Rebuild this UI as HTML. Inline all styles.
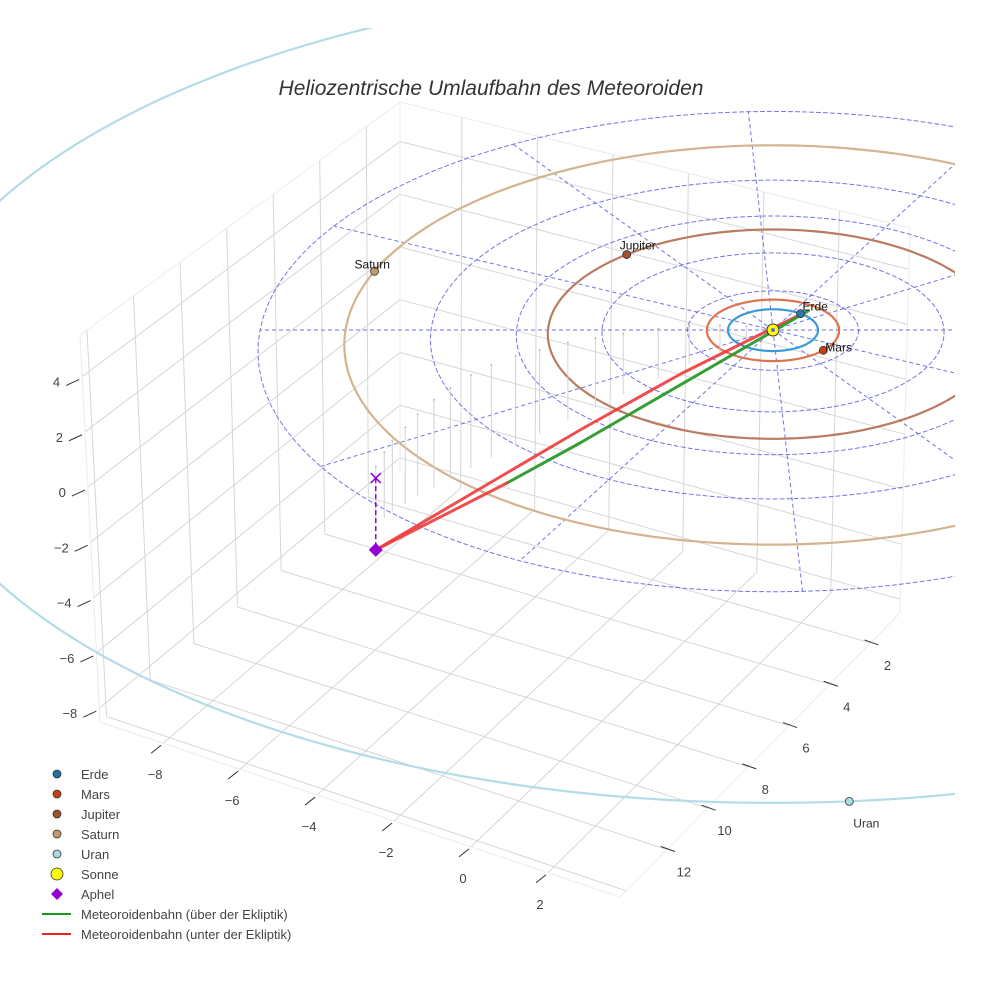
<!DOCTYPE html>
<html><head><meta charset="utf-8"><title>Heliozentrische Umlaufbahn</title>
<style>
html,body{margin:0;padding:0;background:#fff;}
svg{display:block;font-family:"Liberation Sans",Arial,sans-serif;}
</style></head>
<body>
<svg id="chart" width="984" height="984" viewBox="0 0 984 984">
<defs><clipPath id="sceneClip"><rect x="0" y="28" width="955" height="956"/></clipPath></defs>
<rect width="984" height="984" fill="#fff"/>
<g id="scene" clip-path="url(#sceneClip)"></g>
<text x="491" y="95" text-anchor="middle" font-size="21" font-style="italic" fill="#333">Heliozentrische Umlaufbahn des Meteoroiden</text>
<g id="legend"></g>
</svg>
<script>
// ---- data ----
const xTicks = [-8, -6, -4, -2, 0, 2];
const yTicks = [2, 4, 6, 8, 10, 12];
const zTicks = [4, 2, 0, -2, -4, -6, -8];
const planetNames = ["Erde", "Mars", "Jupiter", "Saturn", "Uran"];
const orbitRadii = [1.0, 1.47, 5.0, 9.5, 19.2];
const planetAngles = [-52, 41, -132, -162.4, 85.7];
const gridRingRadii = [1.9, 3.8, 5.7, 7.6, 9.5, 11.4];
const gridSpokeAngles = [0, 27, 57, 87, 117, 147, 180, 207, 237, 267, 297, 327];
// meteoroid path legs (ecliptic u, v, z)
const upperLegU = [0.536, -2.0, -4.133, -8.36];
const upperLegV = [-0.666, 2.05, 4.611, 6.71];
const upperLegZ = [0, 0, 0, -2.52];
const lowerGreenU = [0.783, -4.113, -5.588];
const lowerGreenV = [-0.916, 5.186, 6.921];
const lowerGreenZ = [0, 0, 0];
const lowerRedU = [-5.588, -8.36];
const lowerRedV = [6.921, 6.71];
const lowerRedZ = [0, -2.52];
const aphel = [-8.36, 6.71, -2.52];
const stemU = [-8.36,-8.19,-8.03,-7.77,-7.52,-7.19,-6.86,-6.44,-6.02,-5.52,-5.02,-4.43,-3.85,-3.26,-2.51,-1.84,-1.17,-0.59];
const stemV = [6.71,6.58,6.44,6.24,6.04,5.77,5.50,5.17,4.83,4.43,4.03,3.56,3.09,2.62,2.01,1.48,0.94,0.47];
const stemTop = [0.4,0.8,1.1,1.4,1.7,2.0,2.2,2.4,2.5,2.5,2.4,2.3,2.1,1.9,1.6,1.3,0.9,0.5];
const stemBot = [-1.6,-1.5,-1.4,-1.3,-1.2,-1.1,-1.0,-0.9,-0.8,-0.7,-0.6,-0.5,-0.4,-0.3,-0.2,-0.1,-0.1,0];

// ---- projections ----
const K = 0.00789, SU = 45, SV = 20.9, SZ = 27, CX = 773, CY = 330;
function P(u, v, z) { z = z || 0; const w = 1 / (1 - K * v); return [CX + SU * u * w, CY + SV * v * w - SZ * z * w]; }
const XR = [-9.64, 3.87], YR = [0.55, 14.3], ZR = [-8.5, 5.5];
const C = { "000": [400,471], "001": [400,102], "010": [100,722], "011": [80,335],
            "100": [900,613], "101": [910,228], "110": [620,897], "111": [620,500] };
function B(x, y, z) {
  const a = (x - XR[0]) / (XR[1] - XR[0]), b = (y - YR[0]) / (YR[1] - YR[0]), c = (z - ZR[0]) / (ZR[1] - ZR[0]);
  let sx = 0, sy = 0;
  for (const i of [0,1]) for (const j of [0,1]) for (const l of [0,1]) {
    const wt = (i ? a : 1 - a) * (j ? b : 1 - b) * (l ? c : 1 - c);
    const p = C["" + i + j + l]; sx += wt * p[0]; sy += wt * p[1];
  }
  return [sx, sy];
}
const NS = "http://www.w3.org/2000/svg";
function mk(tag, attrs, parent) { const e = document.createElementNS(NS, tag); for (const k in attrs) e.setAttribute(k, attrs[k]); parent.appendChild(e); return e; }
const scene = document.getElementById("scene");
const legend = document.getElementById("legend");
const chart = document.getElementById("chart");
function line(p, q, st, parent, name) {
  const e = mk("line", { x1: p[0], y1: p[1], x2: q[0], y2: q[1], stroke: st.c, "stroke-width": st.w || 1, "stroke-dasharray": st.d || "none", opacity: st.o || 1 }, parent);
  
  
  return e;
}
function poly(pts, st, parent, name) {
  const e = mk("polyline", { points: pts.map(p => p[0].toFixed(1) + "," + p[1].toFixed(1)).join(" "), fill: "none", stroke: st.c, "stroke-width": st.w || 1, "stroke-dasharray": st.d || "none", opacity: st.o || 1, "stroke-linecap": "round", "stroke-linejoin": "round" }, parent);
  
  
  return e;
}
function txt(x, y, s, attrs, parent, name) {
  const e = mk("text", Object.assign({ x: x, y: y, "font-size": 13, fill: "#444" }, attrs), parent);
  e.textContent = s;
  
  
  return e;
}

// ---- box grid ----
const G = { c: "#d6d6d6", w: 1 };
zTicks.forEach(z => { poly([B(XR[0], YR[1], z), B(XR[0], YR[0], z), B(XR[1], YR[0], z)], G, scene, "grid-z-line"); });
yTicks.concat([14]).forEach(y => { line(B(XR[0], y, ZR[0]), B(XR[0], y, ZR[1]), G, scene, "grid-y-wall-line"); line(B(XR[0], y, ZR[0]), B(XR[1], y, ZR[0]), G, scene, "grid-y-floor-line"); });
xTicks.forEach(x => { line(B(x, YR[0], ZR[0]), B(x, YR[0], ZR[1]), G, scene, "grid-x-wall-line"); line(B(x, YR[0], ZR[0]), B(x, YR[1], ZR[0]), G, scene, "grid-x-floor-line"); });
const E = { c: "#ececec", w: 1 };
poly([B(XR[0], YR[1], ZR[1]), B(XR[0], YR[0], ZR[1]), B(XR[1], YR[0], ZR[1]), B(XR[1], YR[0], ZR[0]), B(XR[1], YR[1], ZR[0]), B(XR[0], YR[1], ZR[0]), B(XR[0], YR[1], ZR[1])], E, scene, "box-edge");
line(B(XR[0], YR[0], ZR[0]), B(XR[0], YR[0], ZR[1]), E, scene, "box-edge-back");

// ---- polar grid (ecliptic) ----
const DG = { c: "#5a5ae6", w: 1, d: "4,3", o: 0.85 };
gridRingRadii.forEach(r => {
  const pts = []; for (let t = 0; t <= 360; t += 3) { const a = t * Math.PI / 180; pts.push(P(r * Math.cos(a), r * Math.sin(a))); }
  poly(pts, DG, scene, "ecliptic-grid-ring");
});
const rMax = gridRingRadii[gridRingRadii.length - 1];
gridSpokeAngles.forEach(t => { const a = t * Math.PI / 180; line(P(0, 0), P(rMax * Math.cos(a), rMax * Math.sin(a)), DG, scene, "ecliptic-grid-spoke"); });

// ---- orbits ----
const orbitColors = ["#3a9ad6", "#dc7450", "#b97c60", "#d4b48e", "#b2dde6"];
const markerColors = ["#2a78b0", "#c8400c", "#a0522d", "#c49a6c", "#a8d8e4"];
orbitRadii.forEach((r, i) => {
  const pts = []; for (let t = 0; t <= 360; t += 1.5) { const a = t * Math.PI / 180; pts.push(P(r * Math.cos(a), r * Math.sin(a))); }
  poly(pts, { c: orbitColors[i], w: 2.2 }, scene, "orbit-" + planetNames[i].toLowerCase());
});

// ---- stems ----
stemU.forEach((u, i) => {
  const t = P(u, stemV[i], stemTop[i]), b = P(u, stemV[i], stemBot[i]);
  line(t, b, { c: "#d2d2d2", w: 1 }, scene, "projection-stem");
  const d = mk("circle", { cx: t[0], cy: t[1], r: 1, fill: "#bbb" }, scene);
  
  
});

// ---- meteoroid path ----
const zip = (U, V, Z) => U.map((u, i) => P(u, V[i], Z[i]));
poly(zip(upperLegU, upperLegV, upperLegZ), { c: "#ee3b3b", w: 3, o: 0.9 }, scene, "meteor-path-below");
poly(zip(lowerGreenU, lowerGreenV, lowerGreenZ), { c: "#2a9a2a", w: 3, o: 0.95 }, scene, "meteor-path-above");
poly(zip(lowerRedU, lowerRedV, lowerRedZ), { c: "#ee3b3b", w: 3, o: 0.9 }, scene, "meteor-path-below-2");

// aphel projection
const ap = P(aphel[0], aphel[1], aphel[2]), ap0 = P(aphel[0], aphel[1], 0);
line(ap0, ap, { c: "#9400d3", w: 1.5, d: "5,3" }, scene, "aphel-drop-line");
line([ap0[0] - 5, ap0[1] - 5], [ap0[0] + 5, ap0[1] + 5], { c: "#9400d3", w: 1.5 }, scene, "aphel-projection-x");
line([ap0[0] - 5, ap0[1] + 5], [ap0[0] + 5, ap0[1] - 5], { c: "#9400d3", w: 1.5 }, scene, "aphel-projection-x");
const dm = mk("polygon", { points: `${ap[0]},${ap[1]-7} ${ap[0]+7},${ap[1]} ${ap[0]},${ap[1]+7} ${ap[0]-7},${ap[1]}`, fill: "#9400d3" }, scene);



// ---- sun ----
const sp = P(0, 0);
const sun = mk("circle", { cx: sp[0], cy: sp[1], r: 6, fill: "#ffff00", stroke: "#333", "stroke-width": 1 }, scene);


const sunIn = mk("circle", { cx: sp[0], cy: sp[1], r: 2, fill: "#6a6ae0" }, scene);



// ---- planets ----
const labelOff = [[2, -3], [2, 1], [-7, -5], [-20, -3], [4, 26]];
planetNames.forEach((n, i) => {
  const a = planetAngles[i] * Math.PI / 180, r = orbitRadii[i];
  const p = P(r * Math.cos(a), r * Math.sin(a));
  const c = mk("circle", { cx: p[0], cy: p[1], r: 4, fill: markerColors[i], stroke: "#333", "stroke-width": 0.8 }, scene);
  
  
  txt(p[0] + labelOff[i][0], p[1] + labelOff[i][1], n, { "font-size": 12, fill: i === 4 ? "#333" : "#111" }, scene, "planet-label-" + n.toLowerCase());
});

// ---- axis ticks and labels ----
const T = { c: "#333", w: 1 };
zTicks.forEach(z => { const p = B(XR[0], YR[1], z); line([p[0] - 3, p[1] + 3], [p[0] - 16, p[1] + 9], T, scene, "z-tick"); txt(p[0] - 22, p[1] + 10, z < 0 ? "\u2212" + (-z) : String(z), { "text-anchor": "end" }, chart, "z-tick-label"); });
xTicks.forEach(x => { const p = B(x, YR[1], ZR[0]); line([p[0] - 2, p[1] + 2], [p[0] - 12, p[1] + 10], T, scene, "x-tick"); txt(p[0] - 8, p[1] + 36, x < 0 ? "\u2212" + (-x) : String(x), { "text-anchor": "middle" }, chart, "x-tick-label"); });
yTicks.forEach(y => { const p = B(XR[1], y, ZR[0]); line([p[0] - 6, p[1] - 3], [p[0] + 8, p[1] + 2], T, scene, "y-tick"); txt(p[0] + 17, p[1] + 27, String(y), { "text-anchor": "middle" }, chart, "y-tick-label"); });

// ---- legend ----
const legendLabels = ["Erde", "Mars", "Jupiter", "Saturn", "Uran", "Sonne", "Aphel", "Meteoroidenbahn (über der Ekliptik)", "Meteoroidenbahn (unter der Ekliptik)"];
const legendColors = ["#1f6fa8", "#c8400c", "#a0522d", "#c49a6c", "#a8d8e4", "#ffff00", "#9400d3", "#1a9a1a", "#ee2222"];
legendLabels.forEach((s, i) => {
  const y = 774 + i * 20;
  const g = mk("g", {}, legend);
  
  
  let m;
  if (i < 6) m = mk("circle", { cx: 57, cy: y, r: i === 5 ? 6 : 4, fill: legendColors[i], stroke: "#333", "stroke-width": 0.8 }, g);
  else if (i === 6) m = mk("polygon", { points: `57,${y-6} 63,${y} 57,${y+6} 51,${y}`, fill: legendColors[i] }, g);
  else m = mk("line", { x1: 42, y1: y, x2: 71, y2: y, stroke: legendColors[i], "stroke-width": 2 }, g);
  
  
  txt(81, y + 5, s, { "font-size": 13, fill: "#444" }, g, "legend-label");
});
</script>
</body></html>
